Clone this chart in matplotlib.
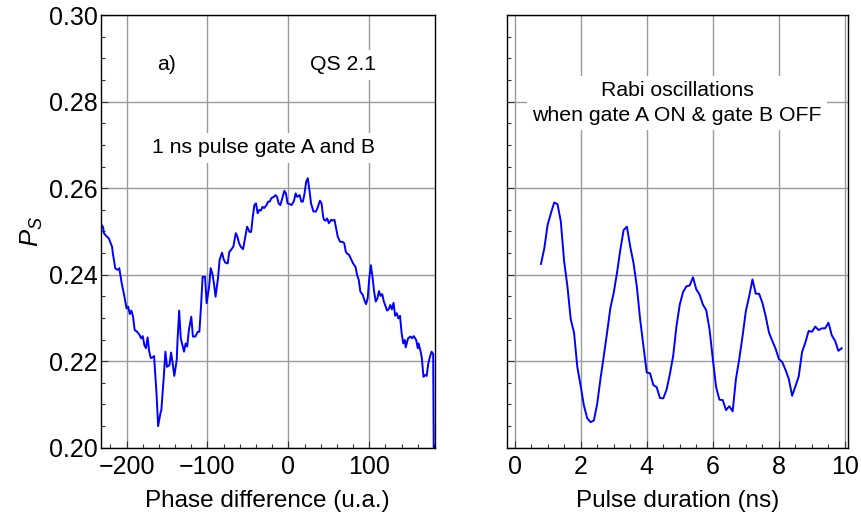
import numpy as np
import matplotlib
matplotlib.use('Agg')
import matplotlib.pyplot as plt
from matplotlib.ticker import MultipleLocator, FormatStrFormatter

plt.rcParams['font.family'] = ['Liberation Sans', 'DejaVu Sans']
plt.rcParams['mathtext.fontset'] = 'custom'
plt.rcParams['mathtext.rm'] = 'Liberation Sans'
plt.rcParams['mathtext.it'] = 'Liberation Sans:italic'

# a) phase scan, 1 ns pulse on gates A and B
phase = [-231, -229, -228, -225, -222, -218, -217, -214, -211, -209, -208, -206,
         -203, -200, -198, -196, -194, -192, -190, -187, -184, -182, -180, -178,
         -176, -174, -172, -170, -167, -166, -163, -161, -158, -157, -154, -152,
         -150, -147, -145, -143, -141, -138, -137, -135, -133, -129, -127, -125,
         -123, -120, -118, -115, -112, -110, -108, -106, -103, -101, -98, -96,
         -94, -92, -90, -87, -85, -82, -80, -78, -75, -73, -71, -68, -65, -63,
         -61, -59, -56, -54, -51, -48, -46, -44, -42, -40, -38, -36, -34, -32,
         -30, -27, -25, -23, -21, -18, -16, -14, -12, -10, -8, -5, -3, -1,
         2, 4, 7, 9, 11, 14, 16, 18, 20, 22, 24, 26, 28, 31, 34, 36, 39, 41,
         43, 44, 46, 48, 50, 53, 55, 57, 59, 61, 64, 67, 69, 71, 73, 75, 78,
         80, 83, 85, 87, 89, 92, 94, 96, 98, 100, 102, 104, 106, 108, 110, 112,
         114, 116, 118, 120, 122, 124, 126, 128, 130, 132, 134, 136, 138, 140,
         142, 144, 145, 148, 151, 153, 155, 158, 160, 161, 164, 165, 167, 169,
         171, 173, 175, 177, 179, 180]
ps_phase = [0.2515, 0.2510, 0.2496, 0.2489, 0.2484, 0.2465, 0.2450, 0.2415, 0.2411,
            0.2415, 0.2403, 0.2380, 0.2353, 0.2322, 0.2326, 0.2309, 0.2317, 0.2303,
            0.2272, 0.2268, 0.2261, 0.2253, 0.2258, 0.2237, 0.2230, 0.2255, 0.2222,
            0.2207, 0.2210, 0.2212, 0.2126, 0.2050, 0.2081, 0.2087, 0.2164, 0.2222,
            0.2187, 0.2191, 0.2220, 0.2195, 0.2166, 0.2203, 0.2249, 0.2317, 0.2253,
            0.2222, 0.2241, 0.2234, 0.2272, 0.2303, 0.2257, 0.2257, 0.2268, 0.2268,
            0.2326, 0.2395, 0.2395, 0.2334, 0.2372, 0.2415, 0.2403, 0.2380, 0.2349,
            0.2392, 0.2434, 0.2451, 0.2436, 0.2428, 0.2426, 0.2453, 0.2457, 0.2465,
            0.2496, 0.2488, 0.2473, 0.2465, 0.2459, 0.2480, 0.2511, 0.2499, 0.2499,
            0.2534, 0.2561, 0.2565, 0.2542, 0.2550, 0.2548, 0.2557, 0.2554, 0.2561,
            0.2569, 0.2569, 0.2577, 0.2580, 0.2584, 0.2580, 0.2565, 0.2561, 0.2573,
            0.2594, 0.2588, 0.2565, 0.2563, 0.2561, 0.2571, 0.2588, 0.2580, 0.2584,
            0.2569, 0.2569, 0.2588, 0.2615, 0.2623, 0.2596, 0.2565, 0.2546, 0.2546,
            0.2554, 0.2571, 0.2565, 0.2534, 0.2527, 0.2525, 0.2530, 0.2519, 0.2527,
            0.2525, 0.2527, 0.2507, 0.2488, 0.2476, 0.2476, 0.2473, 0.2453, 0.2448,
            0.2446, 0.2434, 0.2426, 0.2418, 0.2399, 0.2388, 0.2361, 0.2353, 0.2341,
            0.2332, 0.2345, 0.2392, 0.2422, 0.2395, 0.2361, 0.2338, 0.2345, 0.2362,
            0.2351, 0.2355, 0.2338, 0.2328, 0.2317, 0.2320, 0.2330, 0.2320, 0.2335,
            0.2305, 0.2311, 0.2299, 0.2305, 0.2265, 0.2241, 0.2249, 0.2232, 0.2253,
            0.2257, 0.2253, 0.2258, 0.2249, 0.2230, 0.2241, 0.2218, 0.2207, 0.2164,
            0.2168, 0.2166, 0.2195, 0.2210, 0.2222, 0.2217, 0.1900]

# Rabi oscillations, gate A ON & gate B OFF
duration = [0.8, 0.9, 1.0, 1.1, 1.2, 1.3, 1.4, 1.5, 1.6, 1.7, 1.8, 1.9, 2.0, 2.1,
            2.2, 2.3, 2.4, 2.5, 2.6, 2.7, 2.8, 2.9, 3.0, 3.1, 3.2, 3.3, 3.4, 3.5,
            3.6, 3.7, 3.8, 3.9, 4.0, 4.1, 4.2, 4.3, 4.4, 4.5, 4.6, 4.7, 4.8, 4.9,
            5.0, 5.1, 5.2, 5.3, 5.4, 5.5, 5.6, 5.7, 5.8, 5.9, 6.0, 6.1, 6.2, 6.3,
            6.4, 6.5, 6.6, 6.7, 6.8, 6.9, 7.0, 7.1, 7.2, 7.3, 7.4, 7.5, 7.6, 7.7,
            7.8, 7.9, 8.0, 8.1, 8.2, 8.3, 8.4, 8.5, 8.6, 8.7, 8.8, 8.9, 9.0, 9.1,
            9.2, 9.3, 9.4, 9.5, 9.6, 9.7, 9.8, 9.9]
ps_rabi = [0.2425, 0.2461, 0.2515, 0.2542, 0.2567, 0.2563, 0.2523, 0.2431, 0.2373,
           0.2297, 0.2266, 0.2186, 0.2143, 0.2097, 0.2068, 0.2059, 0.2063, 0.2101,
           0.2159, 0.2212, 0.2266, 0.2323, 0.2358, 0.2404, 0.2457, 0.2503, 0.2511,
           0.2465, 0.2427, 0.2373, 0.2297, 0.2235, 0.2174, 0.2172, 0.2145, 0.2140,
           0.2115, 0.2114, 0.2134, 0.2170, 0.2212, 0.2281, 0.2331, 0.2360, 0.2373,
           0.2375, 0.2394, 0.2366, 0.2354, 0.2331, 0.2318, 0.2274, 0.2205, 0.2140,
           0.2111, 0.2110, 0.2087, 0.2096, 0.2084, 0.2159, 0.2205, 0.2258, 0.2316,
           0.2350, 0.2389, 0.2356, 0.2356, 0.2335, 0.2304, 0.2266, 0.2247, 0.2229,
           0.2205, 0.2198, 0.2180, 0.2159, 0.2120, 0.2142, 0.2165, 0.2221, 0.2243,
           0.2270, 0.2268, 0.2280, 0.2272, 0.2276, 0.2276, 0.2289, 0.2260, 0.2247,
           0.2224, 0.2230]

fig = plt.figure(figsize=(8.62, 5.18), dpi=100)
ax1 = fig.add_axes([0.1168, 0.1357, 0.3876, 0.835])
ax2 = fig.add_axes([0.5885, 0.1357, 0.3956, 0.835])

tick_fs = 18
note_fs = 15.3
box = dict(boxstyle='square,pad=0.25', facecolor='white', edgecolor='none')

for ax in (ax1, ax2):
    ax.set_ylim(0.20, 0.30)
    ax.yaxis.set_major_locator(MultipleLocator(0.02))
    ax.yaxis.set_minor_locator(MultipleLocator(0.005))
    ax.grid(True, which='major', color='#9a9a9a', lw=1.0)
    ax.set_axisbelow(True)
    ax.tick_params(which='both', direction='in', top=False, right=False,
                   labelsize=tick_fs, width=0.8, color='#333333')
    ax.tick_params(which='major', length=5)
    ax.tick_params(which='minor', length=3)
    ax.tick_params(axis='y', pad=2)
    ax.tick_params(axis='x', pad=5)
    for s in ax.spines.values():
        s.set_linewidth(1.0)

ax1.plot(phase, ps_phase, color='#0000ff', lw=1.4)
ax1.set_xlim(-232, 181)
ax1.xaxis.set_major_locator(MultipleLocator(100))
ax1.xaxis.set_minor_locator(MultipleLocator(20))
ax1.yaxis.set_major_formatter(FormatStrFormatter('%.2f'))
ax1.set_xlabel('Phase difference (u.a.)', fontsize=17.5, labelpad=8)
ax1.set_ylabel('$P_S$', fontsize=18.5, labelpad=3)
ax1.text(0.198, 0.885, 'a)', transform=ax1.transAxes, fontsize=note_fs,
         ha='center', va='center', bbox=box)
ax1.text(0.725, 0.885, 'QS 2.1', transform=ax1.transAxes, fontsize=note_fs,
         ha='center', va='center', bbox=box)
ax1.text(0.488, 0.693, '1 ns pulse gate A and B', transform=ax1.transAxes,
         fontsize=note_fs, ha='center', va='center', bbox=box)

ax2.plot(duration, ps_rabi, color='#0000ff', lw=1.4)
ax2.set_xlim(-0.22, 10.1)
ax2.xaxis.set_major_locator(MultipleLocator(2))
ax2.xaxis.set_minor_locator(MultipleLocator(0.5))
ax2.tick_params(axis='y', labelleft=False)
ax2.set_xlabel('Pulse duration (ns)', fontsize=17.5, labelpad=8)
ax2.text(0.498, 0.797, 'Rabi oscillations\nwhen gate A ON & gate B OFF',
         transform=ax2.transAxes, fontsize=note_fs, ha='center', va='center',
         linespacing=1.4, bbox=box)

fig.savefig('out.png', dpi=100)
